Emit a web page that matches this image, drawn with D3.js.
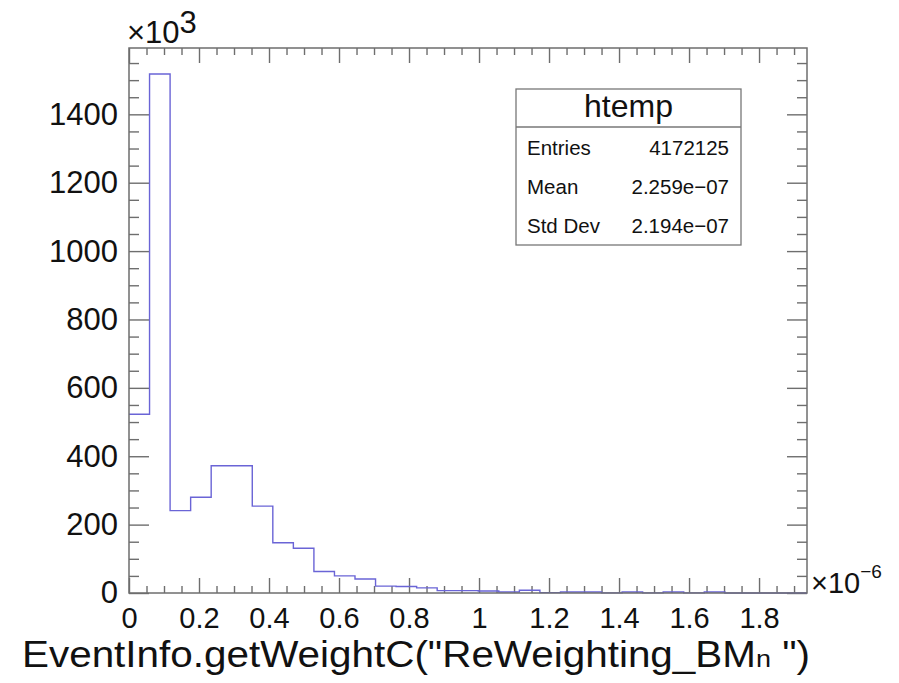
<!DOCTYPE html>
<html lang="en">
<head>
  <meta charset="utf-8">
  <script src="https://d3js.org/d3.v7.min.js"></script>
  <style>
    body { margin: 0; background: #fff; }
    svg { font-family: "Liberation Sans", Arial, Helvetica, sans-serif; }
    .axis path.domain { display: none; }
    .axis line { stroke: #6e6e6e; stroke-width: 1.4; }
  </style>
</head>
<body>
<script>
    // histogram counts (x10^3), one per bin
    const counts = [523, 1518, 241, 280, 372, 372, 254, 147, 131, 63, 50, 41,
                    20, 19, 15, 7, 7, 6, 3, 8, 1, 3, 3, 0.5, 3, 0.5, 3, 0.5, 3,
                    0, 0, 0, 0];
    const xMin = 0, xMax = 1.937;          // axis range (x10^-6)
    const binWidth = (xMax - xMin) / counts.length;
    const yMax = 1594;

    const xMajor = [0, 0.2, 0.4, 0.6, 0.8, 1, 1.2, 1.4, 1.6, 1.8];
    const xTickLabels = ["0", "0.2", "0.4", "0.6", "0.8", "1", "1.2", "1.4", "1.6", "1.8"];
    const yMajor = [0, 200, 400, 600, 800, 1000, 1200, 1400];
    const yTickLabels = ["0", "200", "400", "600", "800", "1000", "1200", "1400"];

    const statsTitle = "htemp";
    const statsNames = ["Entries", "Mean", "Std Dev"];
    const statsValues = ["4172125", "2.259e\u221207", "2.194e\u221207"];

    //canvas + frame
    const W = 899, H = 683;
    const pLeft = 129, pRight = 807, pTop = 48, pBottom = 593;

    const svg = d3.select("body").append("svg")
                  .attr("width", W)
                  .attr("height", H);

    const x = d3.scaleLinear().domain([xMin, xMax]).range([pLeft, pRight]);
    const y = d3.scaleLinear().domain([0, yMax]).range([pBottom, pTop]);

    // minor ticks every 0.05 / 50
    const xMinor = d3.range(0, xMax, 0.05).filter(v => Math.abs(v / 0.2 - Math.round(v / 0.2)) > 1e-6);
    const yMinor = d3.range(0, yMax, 50).filter(v => v % 200 !== 0);

    //bottom axis
    svg.append("g").attr("class", "axis")
       .attr("transform", "translate(0," + pBottom + ")")
       .call(d3.axisBottom(x).tickValues(xMajor).tickSize(-15).tickPadding(14)
               .tickFormat((d, i) => xTickLabels[i]))
       .call(g => g.selectAll("text").attr("font-size", 29).attr("fill", "#111")
                   .style("font-family", "inherit"));
    svg.append("g").attr("class", "axis")
       .attr("transform", "translate(0," + pBottom + ")")
       .call(d3.axisBottom(x).tickValues(xMinor).tickSize(-7).tickFormat(""));

    //top axis (ticks only)
    svg.append("g").attr("class", "axis")
       .attr("transform", "translate(0," + pTop + ")")
       .call(d3.axisTop(x).tickValues(xMajor).tickSize(-15).tickFormat(""));
    svg.append("g").attr("class", "axis")
       .attr("transform", "translate(0," + pTop + ")")
       .call(d3.axisTop(x).tickValues(xMinor).tickSize(-7).tickFormat(""));

    //left axis
    svg.append("g").attr("class", "axis")
       .attr("transform", "translate(" + pLeft + ",0)")
       .call(d3.axisLeft(y).tickValues(yMajor).tickSize(-20).tickPadding(11)
               .tickFormat((d, i) => yTickLabels[i]))
       .call(g => g.selectAll("text").attr("font-size", 31).attr("fill", "#111")
                   .style("font-family", "inherit"));
    svg.append("g").attr("class", "axis")
       .attr("transform", "translate(" + pLeft + ",0)")
       .call(d3.axisLeft(y).tickValues(yMinor).tickSize(-10).tickFormat(""));

    //right axis (ticks only)
    svg.append("g").attr("class", "axis")
       .attr("transform", "translate(" + pRight + ",0)")
       .call(d3.axisRight(y).tickValues(yMajor).tickSize(-20).tickFormat(""));
    svg.append("g").attr("class", "axis")
       .attr("transform", "translate(" + pRight + ",0)")
       .call(d3.axisRight(y).tickValues(yMinor).tickSize(-10).tickFormat(""));

    //histogram outline
    const pts = counts.map((c, i) => [xMin + i * binWidth, c]);
    pts.push([xMax, counts[counts.length - 1]]);
    const line = d3.line()
                   .x(d => x(d[0]))
                   .y(d => y(d[1]))
                   .curve(d3.curveStepAfter);
    svg.append("path")
       .datum(pts)
       .attr("d", line)
       .attr("fill", "none")
       .attr("stroke", "#6a64d6")
       .attr("stroke-width", 1.4);

    //frame
    svg.append("rect")
       .attr("x", pLeft).attr("y", pTop)
       .attr("width", pRight - pLeft).attr("height", pBottom - pTop)
       .attr("fill", "none")
       .attr("stroke", "#6e6e6e")
       .attr("stroke-width", 1.5);

    //exponent labels
    const expY = svg.append("text")
                    .attr("x", 127).attr("y", 43)
                    .attr("font-size", 31).attr("fill", "#111");
    expY.append("tspan").text("\u00d710");
    expY.append("tspan").attr("dy", -10).text("3");

    const expX = svg.append("text")
                    .attr("x", 811).attr("y", 593)
                    .attr("font-size", 29).attr("fill", "#111");
    expX.append("tspan").text("\u00d710");
    expX.append("tspan").attr("dy", -15).attr("font-size", 19).text("\u22126");

    //x axis title
    const xt = svg.append("text")
                  .attr("x", 22).attr("y", 667)
                  .attr("textLength", 788)
                  .attr("lengthAdjust", "spacingAndGlyphs")
                  .attr("font-size", 36).attr("fill", "#111");
    xt.append("tspan").text("EventInfo.getWeightC(\"ReWeighting_BM");
    xt.append("tspan").attr("font-size", 24).text("n");
    xt.append("tspan").text(" \")");

    //stats box
    const bx = 516, by = 89, bw = 225, bh = 156, sep = 127;
    svg.append("rect")
       .attr("x", bx).attr("y", by).attr("width", bw).attr("height", bh)
       .attr("fill", "#fff").attr("stroke", "#777").attr("stroke-width", 1.3);
    svg.append("line")
       .attr("x1", bx).attr("x2", bx + bw).attr("y1", sep).attr("y2", sep)
       .attr("stroke", "#777").attr("stroke-width", 1.3);
    svg.append("text")
       .attr("x", bx + bw / 2).attr("y", 117)
       .attr("text-anchor", "middle")
       .attr("font-size", 32).attr("fill", "#111")
       .text(statsTitle);
    const rowY = [155, 194, 233];
    svg.selectAll(".sname").data(statsNames).enter().append("text")
       .attr("class", "sname")
       .attr("x", 527).attr("y", (d, i) => rowY[i])
       .attr("font-size", 20.5).attr("fill", "#111")
       .text(d => d);
    svg.selectAll(".sval").data(statsValues).enter().append("text")
       .attr("class", "sval")
       .attr("x", 729).attr("y", (d, i) => rowY[i])
       .attr("text-anchor", "end")
       .attr("font-size", 20.5).attr("fill", "#111")
       .text(d => d);
</script>
</body>
</html>
